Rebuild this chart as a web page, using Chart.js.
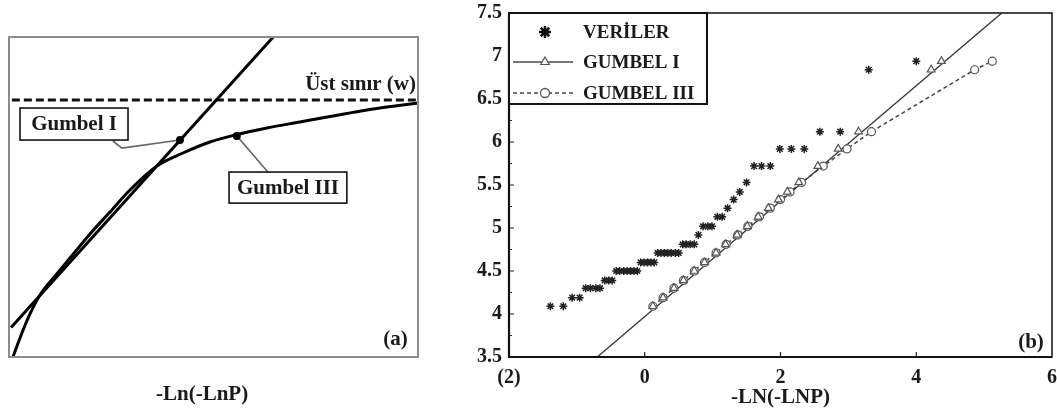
<!DOCTYPE html>
<html>
<head>
<meta charset="utf-8">
<script src="https://cdn.jsdelivr.net/npm/chart.js@4.4.0/dist/chart.umd.min.js"></script>
<style>
  body { margin: 0; background: #fff; overflow: hidden; width: 1057px; height: 416px; position: relative; }
  canvas { position: absolute; top: 0; }
  #panelA { left: 0; }
  #panelB { left: 440px; }
</style>
</head>
<body>
<canvas id="panelA" width="440" height="416"></canvas>
<canvas id="panelB" width="617" height="416"></canvas>
<script>
// (a) schematic, arbitrary units 0..100 on both axes
const gumbel1LineX = [0.5, 64.6]
const gumbel1LineY = [9.2, 100]
const gumbel3CurveX = [0.98, 2.69, 5.13, 7.58, 11.25, 14.91, 19.8, 24.69, 29.58, 36.19, 42.54, 49.14, 55.26, 63.08, 71.15, 79.22, 87.53, 94.38, 100]
const gumbel3CurveY = [0, 5.94, 13.44, 19.38, 25.31, 30.94, 38.44, 45.31, 52.19, 59.69, 63.75, 67.19, 69.38, 71.56, 73.44, 75.31, 77.19, 78.44, 79.38]
const upperBoundX = [0.7, 100]
const upperBoundY = [80.3, 80.3]

// (b) observations (sorted) and fitted models
const obsX = [-1.39, -1.20, -1.07, -0.96, -0.87, -0.80, -0.72, -0.66, -0.59, -0.53,
  -0.48, -0.42, -0.37, -0.31, -0.26, -0.21, -0.16, -0.11, -0.06, -0.01,
  0.04, 0.09, 0.14, 0.19, 0.24, 0.29, 0.34, 0.39, 0.45, 0.50,
  0.56, 0.61, 0.67, 0.73, 0.79, 0.86, 0.93, 0.99, 1.07, 1.14,
  1.22, 1.31, 1.40, 1.50, 1.61, 1.72, 1.85, 1.99, 2.16, 2.35,
  2.58, 2.88, 3.30, 4.00]
const obsY = [4.09, 4.09, 4.19, 4.19, 4.30, 4.30, 4.30, 4.30, 4.39, 4.39,
  4.39, 4.50, 4.50, 4.50, 4.50, 4.50, 4.50, 4.50, 4.60, 4.60,
  4.60, 4.60, 4.60, 4.71, 4.71, 4.71, 4.71, 4.71, 4.71, 4.71,
  4.81, 4.81, 4.81, 4.81, 4.92, 5.02, 5.02, 5.02, 5.13, 5.13,
  5.23, 5.33, 5.42, 5.53, 5.72, 5.72, 5.72, 5.92, 5.92, 5.92,
  6.12, 6.12, 6.84, 6.94]
const modelY = [4.09, 4.19, 4.30, 4.39, 4.50, 4.60, 4.71, 4.81, 4.92, 5.02,
  5.13, 5.23, 5.33, 5.42, 5.53, 5.72, 5.92, 6.12, 6.84, 6.94]
const gumbel1X = [0.12, 0.27, 0.43, 0.57, 0.73, 0.88, 1.05, 1.19, 1.36, 1.51,
  1.67, 1.82, 1.97, 2.10, 2.27, 2.55, 2.85, 3.15, 4.22, 4.37]
const gumbel3X = [0.12, 0.27, 0.43, 0.57, 0.73, 0.88, 1.05, 1.20, 1.37, 1.52,
  1.69, 1.85, 2.00, 2.14, 2.31, 2.63, 2.98, 3.34, 4.86, 5.12]
const fitLineX = [-0.70, 5.26]
const fitLineY = [3.5, 7.5]

const xTickValues = [-2, 0, 2, 4, 6]
const xTickLabels = ['(2)', '0', '2', '4', '6']
const yTickLabels = ['3.5', '4', '4.5', '5', '5.5', '6', '6.5', '7', '7.5']

const SERIF = '"Liberation Serif", "Times New Roman", serif'
const pts = (xs, ys) => xs.map((v, i) => ({ x: v, y: ys[i] }))

// ---------- panel (a) ----------
const annotA = {
  id: 'annotA',
  afterDatasetsDraw(chart) {
    const { ctx, chartArea: a, scales: { x, y } } = chart
    const px = v => x.getPixelForValue(v)
    const py = v => y.getPixelForValue(v)
    ctx.save()
    ctx.strokeStyle = '#8c8c8c'
    ctx.lineWidth = 2
    ctx.strokeRect(a.left, a.top, a.width, a.height)

    // leader lines
    ctx.strokeStyle = '#666'
    ctx.lineWidth = 1.6
    ctx.beginPath()
    ctx.moveTo(px(25.4), py(67.5))
    ctx.lineTo(px(27.6), py(65.3))
    ctx.lineTo(px(41.8), py(67.8))
    ctx.moveTo(px(63.3), py(57.8))
    ctx.lineTo(px(55.7), py(69.1))
    ctx.stroke()
    ctx.fillStyle = '#000'
    ;[[41.8, 67.8], [55.7, 69.1]].forEach(([vx, vy]) => {
      ctx.beginPath()
      ctx.arc(px(vx), py(vy), 4, 0, Math.PI * 2)
      ctx.fill()
    })

    // label boxes
    ctx.font = 'bold 21px ' + SERIF
    ctx.textAlign = 'center'
    ctx.textBaseline = 'middle'
    ;[['Gumbel I', 2.69, 29.1, 77.8, 67.8], ['Gumbel III', 53.8, 82.6, 57.8, 48.1]].forEach(([t, x0, x1, y0, y1]) => {
      ctx.fillStyle = '#fff'
      ctx.fillRect(px(x0), py(y0), px(x1) - px(x0), py(y1) - py(y0))
      ctx.strokeStyle = '#111'
      ctx.lineWidth = 1.6
      ctx.strokeRect(px(x0), py(y0), px(x1) - px(x0), py(y1) - py(y0))
      ctx.fillStyle = '#1a1a1a'
      ctx.fillText(t, (px(x0) + px(x1)) / 2, (py(y0) + py(y1)) / 2 + 1)
    })

    ctx.textAlign = 'right'
    ctx.fillText('Üst sınır (w)', px(99.5), py(85))
    ctx.fillText('(a)', px(97.5), py(5.3))
    ctx.textAlign = 'center'
    ctx.fillText('-Ln(-LnP)', px(47.2), a.bottom + 38)
    ctx.restore()
  }
}

new Chart(document.getElementById('panelA'), {
  type: 'scatter',
  data: {
    datasets: [
      { data: pts(gumbel1LineX, gumbel1LineY), showLine: true, borderColor: '#000', borderWidth: 3, pointRadius: 0 },
      { data: pts(gumbel3CurveX, gumbel3CurveY), showLine: true, borderColor: '#000', borderWidth: 3, pointRadius: 0, cubicInterpolationMode: 'monotone' },
      { data: pts(upperBoundX, upperBoundY), showLine: true, borderColor: '#111', borderWidth: 3, borderDash: [8, 4], pointRadius: 0 }
    ]
  },
  options: {
    responsive: false,
    animation: false,
    layout: { autoPadding: false, padding: { left: 9, top: 37, right: 22, bottom: 59 } },
    plugins: { legend: { display: false }, tooltip: { enabled: false } },
    scales: {
      x: { type: 'linear', min: 0, max: 100, display: false },
      y: { type: 'linear', min: 0, max: 100, display: false }
    }
  },
  plugins: [annotA]
})

// ---------- panel (b) ----------
const decorB = {
  id: 'decorB',
  afterDraw(chart) {
    const { ctx, chartArea: a, scales: { x, y } } = chart
    ctx.save()
    // inner ticks
    ctx.strokeStyle = '#222'
    ctx.lineWidth = 1.2
    ctx.beginPath()
    for (let v = 3.75; v < 7.5; v += 0.25) {
      const len = Math.abs(v * 2 - Math.round(v * 2)) < 1e-6 ? 5 : 3
      ctx.moveTo(a.left, y.getPixelForValue(v))
      ctx.lineTo(a.left + len, y.getPixelForValue(v))
    }
    xTickValues.slice(1, -1).forEach(v => {
      ctx.moveTo(x.getPixelForValue(v), a.bottom)
      ctx.lineTo(x.getPixelForValue(v), a.bottom - 5)
    })
    ctx.stroke()

    // frame
    ctx.strokeStyle = '#111'
    ctx.lineWidth = 1.5
    ctx.strokeRect(a.left, a.top, a.width, a.height)
    ctx.lineWidth = 2.2
    ctx.beginPath()
    ctx.moveTo(a.left, a.top)
    ctx.lineTo(a.left, a.bottom)
    ctx.lineTo(a.right, a.bottom)
    ctx.stroke()

    // legend
    const lx = a.left, ly = a.top, lw = 198, lh = 91
    ctx.fillStyle = '#fff'
    ctx.fillRect(lx, ly, lw, lh)
    ctx.lineWidth = 2
    ctx.strokeStyle = '#111'
    ctx.strokeRect(lx, ly, lw, lh)
    const rows = [19, 49, 80]
    const sx = lx + 36
    ctx.fillStyle = '#111'
    ctx.strokeStyle = '#111'
    ctx.lineWidth = 2.5
    Chart.helpers.drawPoint(ctx, { pointStyle: 'star', radius: 6, borderWidth: 2.5, rotation: 0 }, sx, ly + rows[0])

    ctx.strokeStyle = '#777'
    ctx.lineWidth = 2
    ctx.beginPath()
    ctx.moveTo(lx + 4, ly + rows[1])
    ctx.lineTo(lx + 64, ly + rows[1])
    ctx.stroke()
    ctx.fillStyle = '#fff'
    ctx.strokeStyle = '#555'
    ctx.lineWidth = 1.2
    Chart.helpers.drawPoint(ctx, { pointStyle: 'triangle', radius: 5, borderWidth: 1.2, rotation: 0 }, sx, ly + rows[1])

    ctx.strokeStyle = '#444'
    ctx.lineWidth = 1.3
    ctx.setLineDash([4, 3])
    ctx.beginPath()
    ctx.moveTo(lx + 4, ly + rows[2])
    ctx.lineTo(lx + 64, ly + rows[2])
    ctx.stroke()
    ctx.setLineDash([])
    ctx.fillStyle = '#fff'
    ctx.strokeStyle = '#555'
    Chart.helpers.drawPoint(ctx, { pointStyle: 'circle', radius: 4.5, borderWidth: 1.2, rotation: 0 }, sx, ly + rows[2])

    ctx.fillStyle = '#1a1a1a'
    ctx.font = 'bold 19px ' + SERIF
    ctx.textAlign = 'left'
    ctx.textBaseline = 'middle'
    ctx.fillText('VERİLER', lx + 74, ly + rows[0] + 1)
    ctx.fillText('GUMBEL I', lx + 74, ly + rows[1] + 1)
    ctx.fillText('GUMBEL III', lx + 74, ly + rows[2] + 1)

    ctx.font = 'bold 21px ' + SERIF
    ctx.textAlign = 'right'
    ctx.fillText('(b)', x.getPixelForValue(5.88), y.getPixelForValue(3.67))
    ctx.restore()
  }
}

new Chart(document.getElementById('panelB'), {
  type: 'scatter',
  data: {
    datasets: [
      { label: 'VERİLER', data: pts(obsX, obsY), showLine: false, pointStyle: 'star', pointRadius: 4, borderColor: '#222', borderWidth: 1.5, order: 0 },
      { label: 'GUMBEL I', data: pts(gumbel1X, modelY), showLine: false, pointStyle: 'triangle', pointRadius: 4.5, backgroundColor: '#fff', borderColor: '#555', borderWidth: 1.2, order: 1 },
      { label: 'GUMBEL III', data: pts(gumbel3X, modelY), showLine: true, borderColor: '#444', borderWidth: 1.5, borderDash: [4, 3],
        pointStyle: 'circle', pointRadius: 4, pointBackgroundColor: '#fff', pointBorderColor: '#555', pointBorderWidth: 1.2, order: 2 },
      { label: 'fit', data: pts(fitLineX, fitLineY), showLine: true, borderColor: '#333', borderWidth: 1.3, pointRadius: 0, order: 3 }
    ]
  },
  options: {
    responsive: false,
    animation: false,
    layout: { autoPadding: false, padding: { left: 0, top: 13, right: 5, bottom: 0 } },
    plugins: { legend: { display: false }, tooltip: { enabled: false } },
    scales: {
      x: {
        type: 'linear', min: -2, max: 6,
        grid: { display: false, drawTicks: false },
        border: { display: false },
        afterBuildTicks: s => { s.ticks = xTickValues.map(v => ({ value: v })) },
        afterFit: s => { s.height = 59; s.paddingLeft = 0; s.paddingRight = 0 },
        ticks: {
          padding: 9, color: '#1a1a1a', maxRotation: 0,
          font: { family: SERIF, size: 20, weight: 'bold' },
          callback: (v, i) => xTickLabels[i]
        },
        title: {
          display: true, text: '-LN(-LNP)', color: '#1a1a1a',
          font: { family: SERIF, size: 21, weight: 'bold' },
          padding: { top: 0, bottom: 6 }
        }
      },
      y: {
        type: 'linear', min: 3.5, max: 7.5,
        grid: { display: false, drawTicks: false },
        border: { display: false },
        afterFit: s => { s.width = 69; s.paddingTop = 0; s.paddingBottom = 0 },
        ticks: {
          stepSize: 0.5, padding: 7, color: '#1a1a1a',
          font: { family: SERIF, size: 20, weight: 'bold' },
          callback: (v, i) => yTickLabels[i]
        }
      }
    }
  },
  plugins: [decorB]
})
</script>
</body>
</html>
